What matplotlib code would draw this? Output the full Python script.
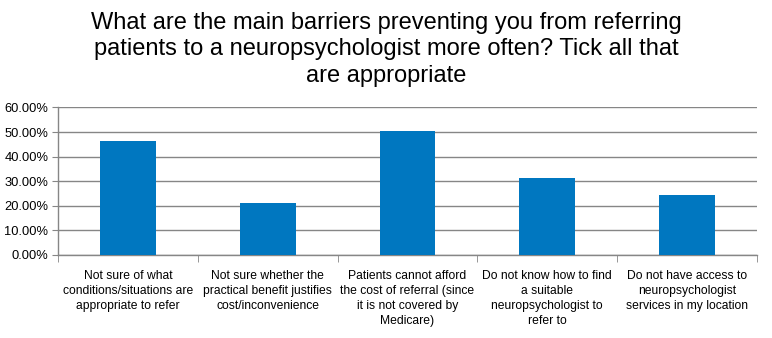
import matplotlib
matplotlib.use("Agg")
import matplotlib.pyplot as plt
from matplotlib.ticker import FuncFormatter, FixedLocator
import numpy as np


TITLE = ("What are the main barriers preventing you from referring\n"
         "patients to a neuropsychologist more often? Tick all that\n"
         "are appropriate")

CATEGORIES = [
    "Not sure of what\nconditions/situations are\nappropriate to refer",
    "Not sure whether the\npractical benefit justifies\ncost/inconvenience",
    "Patients cannot afford\nthe cost of referral (since\nit is not covered by\nMedicare)",
    "Do not know how to find\na suitable\nneuropsychologist to\nrefer to",
    "Do not have access to\nneuropsychologist\nservices in my location",
]

VALUES = [0.463, 0.213, 0.505, 0.314, 0.245]

Y_TICKS = [0.0, 0.1, 0.2, 0.3, 0.4, 0.5, 0.6]

BAR_COLOR = "#0077C0"
GRID_COLOR = "#868686"


def main():
    plt.rcParams["font.family"] = ["Liberation Sans", "DejaVu Sans"]

    fig = plt.figure(figsize=(7.72, 3.38), dpi=100)
    ax = fig.add_axes([0.0751, 0.2456, 0.9055, 0.4364])

    x = np.arange(len(CATEGORIES))
    ax.bar(x, VALUES, width=0.4, color=BAR_COLOR, zorder=3)

    ax.set_xlim(-0.5, len(CATEGORIES) - 0.5)
    ax.set_ylim(0, 0.6)
    ax.set_yticks(Y_TICKS)
    ax.yaxis.set_major_formatter(FuncFormatter(lambda v, _: f"{v * 100:.2f}%"))
    ax.yaxis.grid(True, color=GRID_COLOR, linewidth=1.0, zorder=0)

    # category labels centred, tick marks on the boundaries
    ax.set_xticks(x)
    ax.set_xticklabels(CATEGORIES, fontsize=8.7, linespacing=1.32)
    ax.tick_params(axis="x", which="major", length=0, pad=11)
    ax.xaxis.set_minor_locator(FixedLocator(np.arange(-0.5, len(CATEGORIES), 1.0)))
    ax.tick_params(axis="x", which="minor", length=5, color=GRID_COLOR, direction="out")

    ax.tick_params(axis="y", length=4, color=GRID_COLOR, labelsize=9.3, pad=3)

    for side in ["top", "right"]:
        ax.spines[side].set_visible(False)
    for side in ["left", "bottom"]:
        ax.spines[side].set_color(GRID_COLOR)
        ax.spines[side].set_linewidth(1.0)

    fig.text(0.5, 0.965, TITLE, ha="center", va="top", fontsize=17,
             linespacing=1.27)

    fig.savefig("out.png", dpi=100)
    plt.close(fig)


if __name__ == "__main__":
    main()
